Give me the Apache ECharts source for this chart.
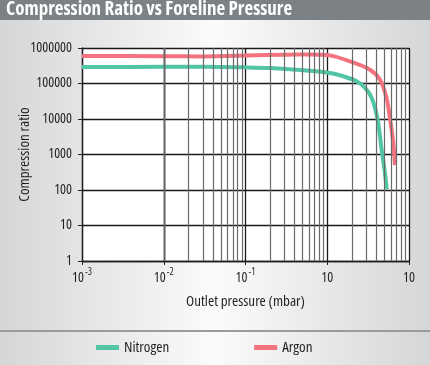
<!DOCTYPE html>
<html>
<head>
<meta charset="utf-8">
<script src="https://cdn.jsdelivr.net/npm/echarts@6/dist/echarts.min.js"></script>
<style>
html,body{margin:0;padding:0;}
#chart{width:430px;height:365px;}
</style>
</head>
<body>
<div id="chart"></div>
<script>
// ---- data ----
const titleText = 'Compression Ratio vs Foreline Pressure';
const seriesNames = ['Nitrogen', 'Argon'];
const nitrogenX = [0.001, 0.01, 0.03, 0.1, 0.2, 0.615, 1.08, 1.57, 2.29, 2.9, 3.5, 4.12, 4.63, 5.08, 5.33];
const nitrogenY = [290000, 295000, 295000, 285000, 273000, 229000, 198000, 160000, 115000, 75000, 39000, 10000, 1340, 300, 105];
const argonX = [0.001, 0.01, 0.03, 0.1, 0.3, 0.6, 1.08, 1.9, 3.33, 4.41, 5.3, 5.86, 6.43, 6.74];
const argonY = [595000, 590000, 580000, 610000, 650000, 660000, 620000, 420000, 245000, 128000, 40000, 10000, 2070, 500];
const xTickBase = ['10', '10', '10', '10', '10'];
const xTickExp = ['-3', '-2', '-1', '', ''];
const yTickLabels = ['1', '10', '100', '1000', '10000', '100000', '1000000'];
const xAxisName = 'Outlet pressure (mbar)';
const yAxisName = 'Compression ratio';

// minor grid positions (2..9 within each decade)
const minorX = [];
[0.001, 0.01, 0.1, 1].forEach(d => { for (let k = 2; k <= 9; k++) minorX.push(+(d * k).toPrecision(3)); });

const FONT = "'Open Sans'";
const COND = '500 condensed';
const TXT = '#231f20';
const colN = '#52c5a5';
const colA = '#f4737f';

const chart = echarts.init(document.getElementById('chart'));
chart.setOption({
  animation: false,
  textStyle: { fontFamily: FONT, fontWeight: COND },
  graphic: [
    { type: 'rect', z: -10, silent: true, shape: { x: 0, y: 0, width: 430, height: 365 },
      style: { fill: new echarts.graphic.LinearGradient(0, 0, 1, 0, [
        { offset: 0, color: '#d5d6d8' }, { offset: 0.5, color: '#fbfbfb' }, { offset: 1, color: '#d5d6d8' }]) } },
    { type: 'rect', z: -9, silent: true, shape: { x: 0, y: 0, width: 430, height: 20 }, style: { fill: '#7b8184' } },
    { type: 'line', z: -9, silent: true, shape: { x1: 0, y1: 331, x2: 430, y2: 331 }, style: { stroke: '#9a9b9d', lineWidth: 2 } },
    { type: 'text', left: 6, top: 0, style: { text: titleText, fill: '#ffffff', font: "bold condensed 19px " + FONT } }
  ],
  grid: { left: 82, right: 21, top: 48, bottom: 104, show: true, backgroundColor: '#ffffff', borderWidth: 0 },
  legend: {
    left: 96, top: 340, padding: 0, itemWidth: 23, itemHeight: 5, itemGap: 85, icon: 'rect',
    textStyle: { fontFamily: FONT, fontWeight: COND, fontSize: 15, color: TXT },
    data: seriesNames
  },
  xAxis: {
    type: 'log', logBase: 10, min: 0.001, max: 10,
    name: xAxisName, nameLocation: 'middle', nameGap: 33, nameMoveOverlap: false,
    nameTextStyle: { fontFamily: FONT, fontWeight: COND, fontSize: 15, color: TXT },
    axisLine: { show: true, onZero: false, lineStyle: { color: TXT, width: 1.3 } },
    axisTick: { show: true, length: 4, lineStyle: { color: TXT } },
    splitLine: { show: true, lineStyle: { color: '#1a1a1a', width: 1.3 } },
    axisLabel: {
      margin: 6, color: TXT,
      formatter: function (v, i) { return '{b|' + xTickBase[i] + '}' + (xTickExp[i] ? '{s|' + xTickExp[i] + '}' : ''); },
      rich: {
        b: { fontFamily: FONT, fontWeight: COND, fontSize: 14, color: TXT, lineHeight: 18, verticalAlign: 'bottom' },
        s: { fontFamily: FONT, fontWeight: COND, fontSize: 10, color: TXT, lineHeight: 18, verticalAlign: 'top', padding: [0, 0, 0, 1] }
      }
    }
  },
  yAxis: {
    type: 'log', logBase: 10, min: 1, max: 1000000,
    name: yAxisName, nameLocation: 'middle', nameGap: 50, nameMoveOverlap: false,
    nameTextStyle: { fontFamily: FONT, fontWeight: COND, fontSize: 15, color: TXT },
    axisLine: { show: true, lineStyle: { color: TXT, width: 1.3 } },
    axisTick: { show: true, length: 4, lineStyle: { color: TXT } },
    splitLine: { show: true, lineStyle: { color: '#1a1a1a', width: 1.3 } },
    axisLabel: {
      margin: 10, color: TXT, fontFamily: FONT, fontWeight: COND, fontSize: 14,
      formatter: function (v, i) { return yTickLabels[i]; }
    }
  },
  series: [
    {
      name: 'minor', type: 'line', data: [], silent: true, z: 1,
      markLine: {
        silent: true, symbol: 'none', label: { show: false }, animation: false,
        lineStyle: { color: '#6a6a6a', width: 1.2, type: 'solid' },
        data: minorX.map(v => ({ xAxis: v }))
      }
    },
    {
      name: seriesNames[0], type: 'line', z: 3, showSymbol: false, smooth: 0.3,
      color: colN, lineStyle: { width: 4, color: colN },
      data: nitrogenX.map((x, i) => [x, nitrogenY[i]])
    },
    {
      name: seriesNames[1], type: 'line', z: 3, showSymbol: false, smooth: 0.3,
      color: colA, lineStyle: { width: 4, color: colA },
      data: argonX.map((x, i) => [x, argonY[i]])
    }
  ]
});
</script>
</body>
</html>
